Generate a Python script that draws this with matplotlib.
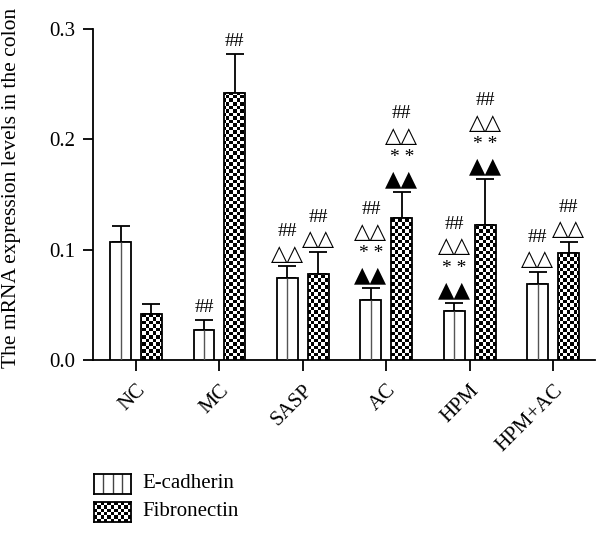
import numpy as np
import matplotlib
matplotlib.use("Agg")
import matplotlib.pyplot as plt

categories = ["NC", "MC", "SASP", "AC", "HPM", "HPM+AC"]
ecad = [0.107, 0.027, 0.074, 0.054, 0.044, 0.069]
ecad_err = [0.014, 0.009, 0.011, 0.011, 0.008, 0.011]
fib = [0.042, 0.242, 0.078, 0.129, 0.122, 0.097]
fib_err = [0.009, 0.035, 0.020, 0.023, 0.042, 0.010]
yticks = [0.0, 0.1, 0.2, 0.3]
ytick_labels = ["0.0", "0.1", "0.2", "0.3"]
ylabel = "The mRNA expression levels in the colon"
legend_labels = ["E-cadherin", "Fibronectin"]
# significance marks, bottom to top
ecad_marks = [[], ["##"], ["△△", "##"], ["▲▲", "* *", "△△", "##"],
              ["▲▲", "* *", "△△", "##"], ["△△", "##"]]
fib_marks = [[], ["##"], ["△△", "##"], ["▲▲", "* *", "△△", "##"],
             ["▲▲", "* *", "△△", "##"], ["△△", "##"]]

SERIF = ["Liberation Serif", "DejaVu Serif"]
plt.rcParams["font.family"] = SERIF

W, H, DPI = 6.10, 5.37, 100
fig = plt.figure(figsize=(W, H), dpi=DPI)
ax = fig.add_axes([93 / 610, 1 - 360 / 537, (595 - 93) / 610, (360 - 29) / 537])

x = np.arange(len(categories))
bw = 0.25
off = 0.185
lw = 1.3
xlim = (-0.515, 5.5)
ylim = (0.0, 0.3)
ax.set_xlim(*xlim)
ax.set_ylim(*ylim)

b1 = ax.bar(x - off, ecad, bw, facecolor="white", edgecolor="black", linewidth=lw, zorder=3)
b2 = ax.bar(x + off, fib, bw, facecolor="none", edgecolor="black", linewidth=lw, zorder=4)
ax.errorbar(x - off, ecad, yerr=[np.zeros(len(ecad)), ecad_err], fmt="none",
            ecolor="black", elinewidth=lw, capsize=6.5, capthick=lw, zorder=2)
ax.errorbar(x + off, fib, yerr=[np.zeros(len(fib)), fib_err], fmt="none",
            ecolor="black", elinewidth=lw, capsize=6.5, capthick=lw, zorder=2)

# vertical hatch line inside E-cadherin bars
for r in b1:
    cx = r.get_x() + r.get_width() / 2
    ax.plot([cx, cx], [0, r.get_height()], color="#555555", lw=1.0, zorder=3.5,
            solid_capstyle="butt")

# checkerboard fill for Fibronectin bars
ax_w_px = (595 - 93)
ax_h_px = (360 - 29)
cell = 3.5
nx = int(ax_w_px / cell)
ny = int(ax_h_px / cell)
checker = (np.add.outer(np.arange(ny), np.arange(nx)) % 2).astype(float)
for r in b2:
    im = ax.imshow(checker, cmap="gray", vmin=0, vmax=1, extent=(*xlim, *ylim),
                   aspect="auto", interpolation="nearest", zorder=3.8, origin="lower")
    im.set_clip_path(r)
ax.set_xlim(*xlim)
ax.set_ylim(*ylim)

# significance annotations
def annotate(xs, tops, marks):
    for xi, t, ms in zip(xs, tops, marks):
        for k, m in enumerate(ms):
            if m in ("△△", "▲▲"):
                fs, fam = 15.5, ["DejaVu Sans"]
            else:
                fs, fam = 14, SERIF
            ax.annotate(m, (xi, t), xytext=(0, 9 + 15.8 * k), textcoords="offset points",
                        ha="center", va="center", fontsize=fs, family=fam, zorder=6,
                        annotation_clip=False)

annotate(x - off, np.array(ecad) + np.array(ecad_err), ecad_marks)
annotate(x + off, np.array(fib) + np.array(fib_err), fib_marks)

for s in ["top", "right"]:
    ax.spines[s].set_visible(False)
for s in ["left", "bottom"]:
    ax.spines[s].set_linewidth(1.3)
ax.set_yticks(yticks)
ax.set_yticklabels(ytick_labels, fontsize=15)
ax.set_xticks(x)
ax.set_xticklabels(categories, rotation=45, ha="right", va="top", rotation_mode="anchor",
                   fontsize=15)
ax.tick_params(axis="y", length=7, width=1.3, pad=6)
ax.tick_params(axis="x", length=8, width=1.3, pad=7)
ax.set_ylabel(ylabel, fontsize=15.5)
ax.yaxis.set_label_coords(-0.143, 0.52)

# legend drawn manually
lx0, lx1 = 94, 131
sw1 = fig.add_axes([lx0 / 610, 1 - 494 / 537, (lx1 - lx0) / 610, 20 / 537])
sw1.set_xlim(0, 4); sw1.set_ylim(0, 1)
for v in (1, 2, 3):
    sw1.plot([v, v], [0, 1], color="#444444", lw=1.0)
sw1.set_xticks([]); sw1.set_yticks([])
for s in sw1.spines.values():
    s.set_linewidth(1.3)
sw2 = fig.add_axes([lx0 / 610, 1 - 522 / 537, (lx1 - lx0) / 610, 20 / 537])
small = (np.add.outer(np.arange(6), np.arange(11)) % 2).astype(float)
sw2.imshow(small, cmap="gray", vmin=0, vmax=1, aspect="auto", interpolation="nearest")
sw2.set_xticks([]); sw2.set_yticks([])
for s in sw2.spines.values():
    s.set_linewidth(1.3)
fig.text(142 / 610, 1 - 484 / 537, legend_labels[0], fontsize=15, va="center", ha="left")
fig.text(142 / 610, 1 - 512 / 537, legend_labels[1], fontsize=15, va="center", ha="left")

fig.savefig("out.png", dpi=DPI)
